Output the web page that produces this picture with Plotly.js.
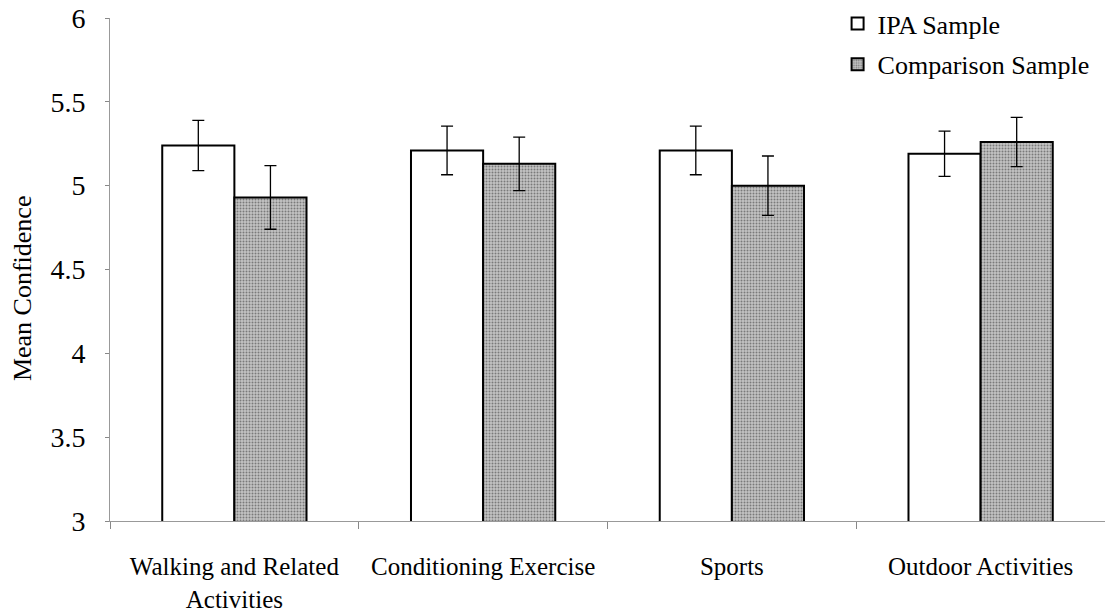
<!DOCTYPE html>
<html>
<head>
<meta charset="utf-8">
<script src="https://cdn.plot.ly/plotly-3.0.1.min.js"></script>
<style>html,body{margin:0;padding:0;background:#fff;}#chart{width:1105px;height:615px;}</style>
</head>
<body>
<div id="chart"></div>
<script>
var categories = ["Walking and Related<br>Activities", "Conditioning Exercise", "Sports", "Outdoor Activities"];
var ipaMeans = [5.24, 5.21, 5.21, 5.19];
var ipaErrors = [0.15, 0.145, 0.145, 0.135];
var comparisonMeans = [4.93, 5.13, 5.00, 5.26];
var comparisonErrors = [0.19, 0.16, 0.177, 0.147];
var seriesNames = ["IPA Sample", "Comparison Sample"];
var yTicks = [3, 3.5, 4, 4.5, 5, 5.5, 6];
var yTitle = "Mean Confidence";

var font = "Liberation Serif, Times New Roman, serif";

var traces = [
  {
    type: "bar", name: seriesNames[0], x: categories, y: ipaMeans,
    legendgroup: "a",
    marker: {color: "#ffffff", line: {color: "#000000", width: 2}},
    error_y: {type: "data", array: ipaErrors, visible: true, color: "#000000", thickness: 1.3, width: 6}
  },
  {
    type: "bar", name: seriesNames[1], x: categories, y: comparisonMeans,
    legendgroup: "b",
    marker: {color: "#b3b3b3", line: {color: "#000000", width: 2},
      pattern: {shape: ".", fgcolor: "#7a7a7a", bgcolor: "#c4c4c4", size: 3, solidity: 0.35}},
    error_y: {type: "data", array: comparisonErrors, visible: true, color: "#000000", thickness: 1.3, width: 6}
  }
];

var layout = {
  width: 1105, height: 615,
  margin: {l: 110, r: 0, t: 18, b: 94, autoexpand: false},
  paper_bgcolor: "#ffffff", plot_bgcolor: "#ffffff",
  barmode: "group", bargap: 0.42, bargroupgap: 0,
  showlegend: true,
  legend: {xref: "container", yref: "container", x: 0.758, y: 1, xanchor: "left", yanchor: "top",
    font: {family: font, size: 26, color: "#000"},
    traceorder: "grouped", tracegroupgap: 4, itemwidth: 30, bgcolor: "rgba(0,0,0,0)"},
  xaxis: {
    type: "category", tickson: "boundaries", ticks: "outside", ticklen: 7, tickcolor: "#888",
    showline: true, linecolor: "#999", linewidth: 1, showgrid: false, zeroline: false, automargin: false,
    tickfont: {family: font, size: 25, color: "#000"}, ticklabelstandoff: 23
  },
  yaxis: {
    range: [3, 6], tickvals: yTicks, ticktext: yTicks.map(String), ticks: "outside", ticklen: 4, tickcolor: "#888",
    showline: true, linecolor: "#999", linewidth: 1, showgrid: false, zeroline: false, automargin: false,
    tickfont: {family: font, size: 28, color: "#000"}, ticklabelstandoff: 14
  },
  annotations: [{
    text: yTitle, textangle: -90, xref: "paper", yref: "paper", x: 0, y: 0.463,
    xanchor: "center", yanchor: "middle", xshift: -88, showarrow: false,
    font: {family: font, size: 26, color: "#000"}
  }]
};

Plotly.newPlot("chart", traces, layout, {displayModeBar: false, staticPlot: true});
</script>
</body>
</html>
